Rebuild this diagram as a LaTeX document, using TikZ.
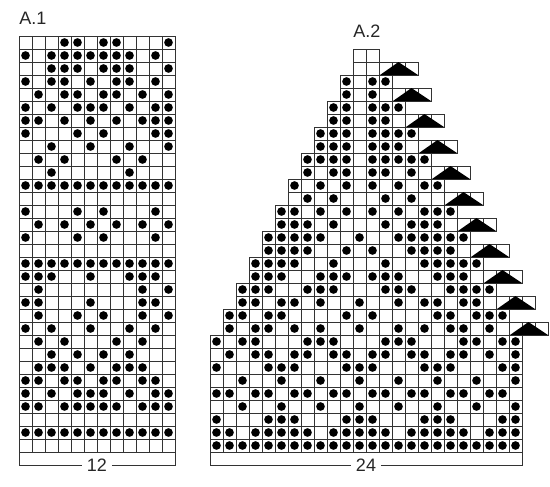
\documentclass[tikz,border=0pt]{standalone}
\usepackage{fontspec}
\setmainfont{Liberation Sans}
\tikzset{
  cell/.style={draw=black!80,line width=0.55pt},
  stitch/.style={fill=black},
  chartlabel/.style={font=\fontsize{13.5}{16}\selectfont,text=black!85},
}

\begin{document}
\begin{tikzpicture}[x=0.75pt,y=-0.75pt]
\useasboundingbox (0,0) rectangle (550,486);

% chart A.1 (12 stitches, 32 rows, row 1 at top)
\node[chartlabel,anchor=base west,inner sep=0pt] (titleA) at (19,24) {A.1};
\foreach \r/\d in {1/{4,5,7,8,12}, 2/{1,3,4,5,6,7,8,9,11}, 3/{3,4,5,7,8,9,12},
    4/{1,3,4,6,8,9,11}, 5/{2,4,5,7,8,10,12}, 6/{1,3,5,6,7,9,11,12},
    7/{1,2,4,6,8,10,11,12}, 8/{1,5,7,11,12}, 9/{3,6,9,12}, 10/{2,4,8,10},
    11/{3,9}, 12/{1,...,12}, 13/{0}, 14/{1,5,7,11}, 15/{2,4,6,8,10,12},
    16/{1,5,7,11}, 17/{0}, 18/{1,...,12}, 19/{1,2,3,6,9,10,11}, 20/{2,10,12},
    21/{1,2,6,10,11}, 22/{2,5,7,10,12}, 23/{1,3,6,9,11}, 24/{2,4,8,10},
    25/{3,5,7,9}, 26/{2,3,4,6,8,9,10}, 27/{1,2,4,5,7,8,10,11},
    28/{1,3,5,6,7,9,11,12}, 29/{1,2,4,5,6,7,8,10,11,12}, 30/{0},
    31/{1,...,12}, 32/{0}} {
  \foreach \c in {1,...,12}
    \draw[cell] ({6+13*\c},{23+13*\r}) rectangle +(13,13);
  \foreach \c in \d {
    \ifnum\c>0 \fill[stitch] ({12.5+13*\c},{29.5+13*\r}) circle[radius=3.25pt]; \fi
  }
}

% width of A.1
\node[chartlabel,inner xsep=3.4pt] (widthA) at (97,465) {12};
\draw[cell] (19,452) |- (widthA.west);
\draw[cell] (widthA.east) -| (175,452);

% chart A.2 (24 stitches, 31 rows, row/first/last/dots)
\node[chartlabel,anchor=base west,inner sep=0pt] (titleB) at (353,37) {A.2};
\foreach \r/\a/\b/\d in {1/12/13/{0}, 2/12/12/{0}, 3/11/14/{11,13,14},
    4/11/13/{11,13}, 5/10/15/{10,11,13,14,15}, 6/10/14/{10,11,13,14},
    7/9/16/{9,10,11,13,14,15,16}, 8/9/15/{9,10,11,13,14,15},
    9/8/17/{8,9,10,11,13,14,15,16,17}, 10/8/16/{8,10,11,13,14,16},
    11/7/18/{7,9,11,13,15,17,18}, 12/7/17/{8,10,14,16},
    13/6/19/{6,7,9,11,13,15,17,18,19}, 14/6/18/{6,7,8,10,14,16,17,18},
    15/5/20/{5,6,7,8,9,12,15,16,17,18,19,20},
    16/5/19/{5,6,7,8,11,13,16,17,18,19},
    17/4/21/{4,5,6,7,10,14,17,18,19,20,21},
    18/4/20/{4,5,6,9,10,11,13,14,15,18,19,20},
    19/3/22/{3,4,5,8,9,10,14,15,16,19,20,21,22},
    20/3/21/{3,4,6,7,9,12,15,17,18,20,21},
    21/2/23/{2,3,5,6,11,13,18,19,21,22,23},
    22/2/22/{2,4,5,7,9,12,15,17,19,20,22},
    23/1/24/{1,3,4,8,9,10,14,15,16,20,21,23,24},
    24/1/24/{2,4,5,7,8,10,11,13,14,16,17,19,20,22,24},
    25/1/24/{1,5,6,7,11,12,13,17,18,19,23,24},
    26/1/24/{3,6,9,12,15,18,21,24},
    27/1/24/{1,2,4,5,7,8,10,11,13,14,16,17,19,20,22,23},
    28/1/24/{3,6,9,12,15,18,21,24},
    29/1/24/{1,5,6,7,11,12,13,17,18,19,23,24},
    30/1/24/{1,2,4,5,6,7,8,10,11,12,13,14,16,17,18,19,20,22,23,24},
    31/1/24/{1,...,24}} {
  \foreach \c in {\a,...,\b}
    \draw[cell] ({197+13*\c},{36+13*\r}) rectangle +(13,13);
  \foreach \c in \d {
    \ifnum\c>0 \fill[stitch] ({203.5+13*\c},{42.5+13*\r}) circle[radius=3.25pt]; \fi
  }
}

% decreases along the right edge (every 2nd row, 3 stitches wide)
\foreach \k in {1,...,11} {
  \foreach \c in {0,1,2}
    \draw[cell] ({366+13*\k+13*\c},{36+26*\k}) rectangle +(13,13);
  \fill[stitch] ({367+13*\k},{49+26*\k}) -- ({385.5+13*\k},{36+26*\k})
    -- ({405+13*\k},{49+26*\k}) -- cycle;
}

% width of A.2
\node[chartlabel,inner xsep=3.4pt] (widthB) at (366,465) {24};
\draw[cell] (210,452) |- (widthB.west);
\draw[cell] (widthB.east) -| (522,452);

\end{tikzpicture}
\end{document}
